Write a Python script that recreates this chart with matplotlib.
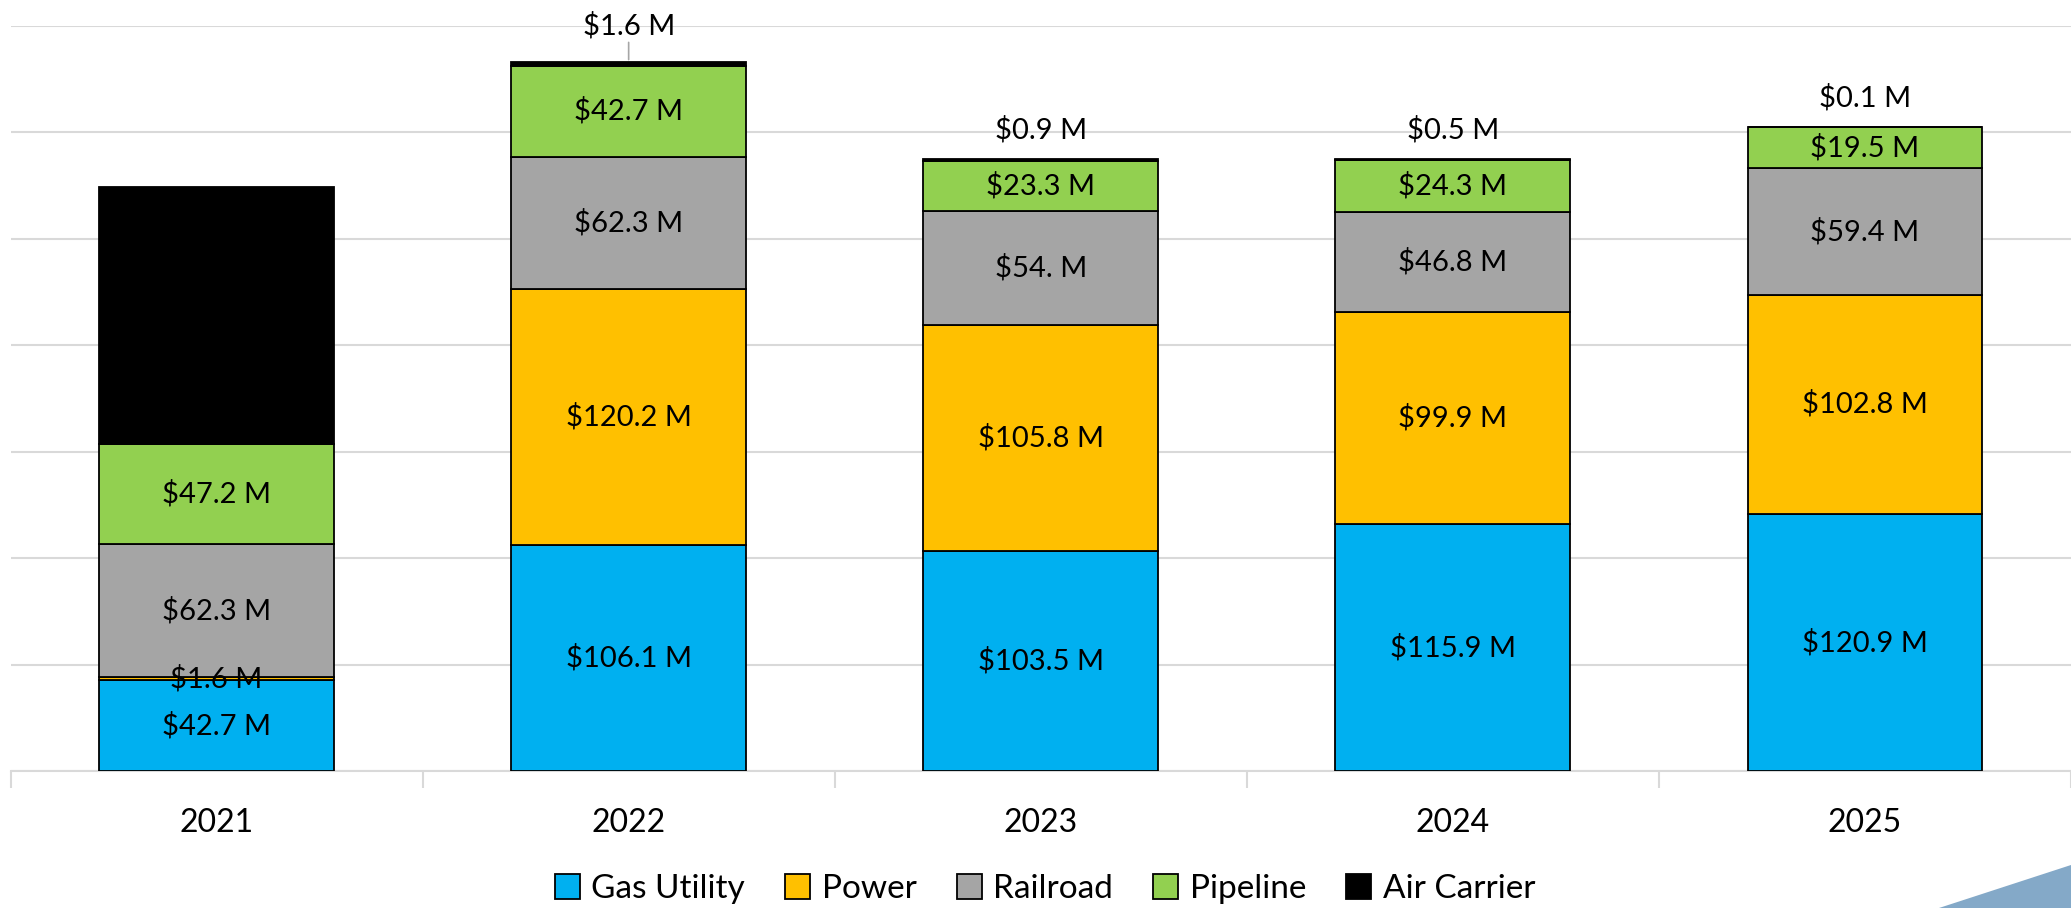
import matplotlib
matplotlib.use("Agg")
import matplotlib.pyplot as plt
from matplotlib.patches import Patch, Polygon
import numpy as np

plt.rcParams['font.family'] = ['Lato', 'DejaVu Sans']

years = ["2021", "2022", "2023", "2024", "2025"]
series = ["Gas Utility", "Power", "Railroad", "Pipeline", "Air Carrier"]
gas_utility = [42.7, 106.1, 103.5, 115.9, 120.9]
power = [1.6, 120.2, 105.8, 99.9, 102.8]
railroad = [62.3, 62.3, 54.0, 46.8, 59.4]
pipeline = [47.2, 42.7, 23.3, 24.3, 19.5]
air_carrier = [120.4, 1.6, 0.9, 0.5, 0.1]
colors = ["#00B0F0", "#FFC000", "#A5A5A5", "#92D050", "#000000"]

values = [gas_utility, power, railroad, pipeline, air_carrier]


def fmt(v):
    s = f"{v:.1f}"
    if s.endswith("0"):
        s = s[:-1]
    return f"${s} M"


W, H = 2071, 908
fig = plt.figure(figsize=(W / 100, H / 100), dpi=100)
left = 10.5 / W
bottom = (H - 771) / H
top = 1 - 26 / H
ax = fig.add_axes([left, bottom, 1 - left, top - bottom])

x = np.arange(len(years))
width = 0.57
base = np.zeros(len(years))
for name, vals, col in zip(series, values, colors):
    vals = np.array(vals)
    ax.bar(x, vals, width, bottom=base, color=col, edgecolor="black",
           linewidth=1.3, label=name, zorder=3)
    for i, (b, v) in enumerate(zip(base, vals)):
        if name == "Air Carrier":
            if i == 0:
                continue
            ytop = b + v
            off = 37 if i == 1 else 29
            ax.annotate(fmt(v), (x[i], ytop), xytext=(0, off),
                        textcoords="offset pixels", ha="center", va="center",
                        fontsize=21, color="black", zorder=5,
                        annotation_clip=False)
            if i == 1:
                ax.annotate("", (x[i], ytop), xytext=(0, 20),
                            textcoords="offset pixels",
                            arrowprops=dict(arrowstyle="-", color="#A6A6A6", lw=1.2,
                                            shrinkA=0, shrinkB=2),
                            annotation_clip=False)
        else:
            ax.text(x[i], b + v / 2, fmt(v), ha="center", va="center",
                    fontsize=21, color="black", zorder=5)
    base = base + vals

ax.set_xlim(-0.5, len(years) - 0.5)
ax.set_ylim(0, 350)
ax.set_yticks(np.arange(0, 351, 50))
ax.set_yticklabels([])
ax.tick_params(axis="y", length=0)
ax.grid(axis="y", color="#D9D9D9", linewidth=1.5, zorder=0)
ax.set_axisbelow(True)
for s in ["top", "right", "left"]:
    ax.spines[s].set_visible(False)
ax.spines["bottom"].set_color("#D9D9D9")
ax.spines["bottom"].set_linewidth(1.5)

ax.set_xticks(x)
ax.set_xticklabels(years, fontsize=23)
ax.tick_params(axis="x", which="major", length=0, pad=27)
ax.set_xticks(np.arange(-0.5, len(years), 1.0), minor=True)
ax.tick_params(axis="x", which="minor", length=12, color="#D9D9D9", width=1.5)

handles = [Patch(facecolor=c, edgecolor="black", linewidth=1.3) for c in colors]
fig.legend(handles, series, loc="center", bbox_to_anchor=(1045 / W, 1 - 889 / H),
           ncol=5, frameon=False, fontsize=24, handlelength=0.75, handleheight=0.75,
           handletextpad=0.35, columnspacing=1.2)

tri = Polygon([[1939 / W, 0], [1.0, 43 / H], [1.0, 0]], closed=True,
              transform=fig.transFigure, facecolor="#84A9C8", edgecolor="none")
fig.patches.append(tri)

fig.savefig("out.png", dpi=100)
